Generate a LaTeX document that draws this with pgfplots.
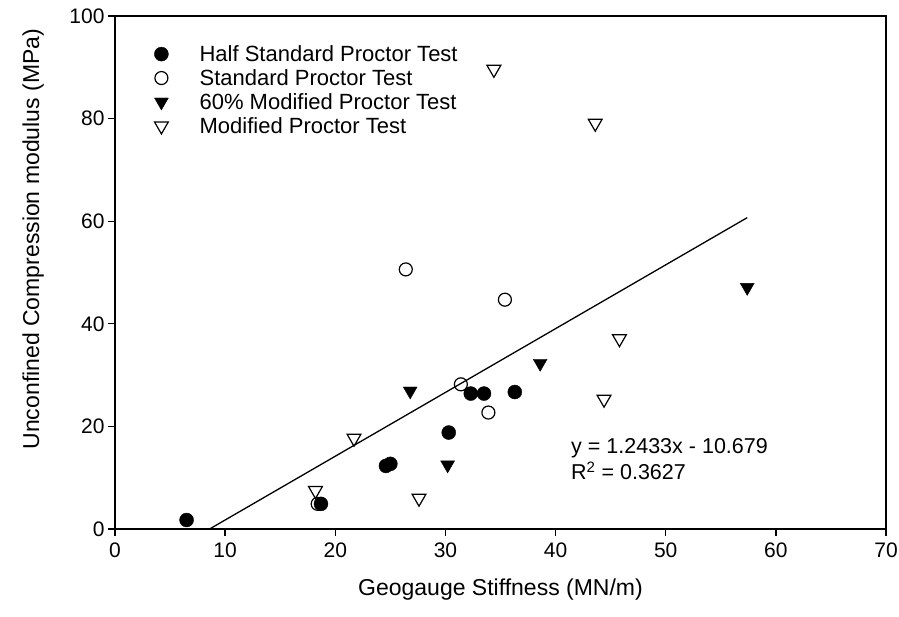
\documentclass[border=0pt]{standalone}
\usepackage{fontspec}
\setmainfont{Liberation Sans}
\usepackage{pgfplots}
\pgfplotsset{compat=1.18}
\begin{document}
\begin{tikzpicture}[x=1pt,y=1pt]
\path[use as bounding box] (0,0) rectangle (899,617);
\begin{axis}[
 at={(115pt,88pt)}, anchor=south west,
 scale only axis, width=771pt, height=513pt,
 xmin=0,xmax=70,ymin=0,ymax=100,
 xtick={0,10,...,70}, ytick={0,20,...,100},
 axis line style={line width=1.3pt},
 tick style={line width=1.3pt, black},
 tick align=outside, major tick length=7pt,
 xtick pos=bottom, ytick pos=left,
 ticklabel style={font=\fontsize{21}{21}\selectfont},
 xticklabel style={yshift=-3pt},
 /pgf/number format/assume math mode=true,
 xlabel={Geogauge Stiffness (MN/m)},
 ylabel={Unconfined Compression modulus (MPa)},
 label style={font=\fontsize{23}{23}\selectfont},
 xlabel style={at={(axis description cs:0.5,-0.119)}, anchor=center},
 ylabel style={at={(axis description cs:-0.106,0.565)}, anchor=center},
 legend style={at={(axis description cs:0.048,0.947)}, anchor=north west, draw=none, fill=none,
   font=\fontsize{22}{22}\selectfont, row sep=2.5pt, inner sep=0pt},
 legend cell align=left,
 legend image code/.code={\path (-9pt,0pt) (36pt,0pt); \draw[mark repeat=2,mark phase=2,#1] plot coordinates {(-4pt,0pt) (0pt,0pt) (4pt,0pt)};},
]
\addplot[only marks, mark=*, mark size=7pt, black] coordinates {
 (6.5,1.75) (18.7,4.9) (24.6,12.3) (25.0,12.7) (30.3,18.8) (32.3,26.4) (33.5,26.4) (36.3,26.7)};
\addlegendentry{Half Standard Proctor Test}
\addplot[only marks, mark=o, mark size=6.5pt, black, mark options={fill=white, line width=1.2pt}] coordinates {
 (18.4,4.9) (26.4,50.6) (31.4,28.2) (33.9,22.7) (35.4,44.7)};
\addlegendentry{Standard Proctor Test}
\addplot[only marks, mark=triangle*, mark size=8pt, black, mark options={rotate=180}] coordinates {
 (26.8,26.9) (30.2,12.5) (38.6,32.3) (57.4,47.1)};
\addlegendentry{60\% Modified Proctor Test}
\addplot[only marks, mark=triangle, mark size=8pt, black, mark options={rotate=180, fill=white, line width=1.2pt}] coordinates {
 (18.2,7.5) (21.7,17.7) (27.6,6.0) (34.4,89.6) (43.6,79.1) (44.4,25.3) (45.8,37.1)};
\addlegendentry{Modified Proctor Test}
\addplot[black, line width=1.3pt, forget plot] coordinates {(8.59,0) (57.4,60.69)};
\node[anchor=west, font=\fontsize{21.5}{21.5}\selectfont, inner sep=0pt] at (axis cs:41.4,15.8) {y = 1.2433x - 10.679};
\node[anchor=west, font=\fontsize{21.5}{21.5}\selectfont, inner sep=0pt] at (axis cs:41.4,11.3) {R\textsuperscript{2} = 0.3627};
\end{axis}
\end{tikzpicture}
\end{document}
